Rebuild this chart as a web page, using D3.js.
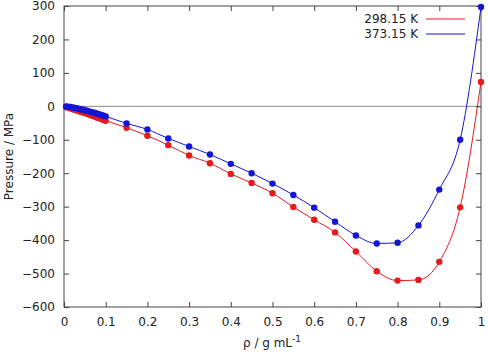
<!DOCTYPE html>
<html><head><meta charset="utf-8">
<script src="https://cdn.jsdelivr.net/npm/d3@7"></script>
<style>body{margin:0;background:#fff}svg{display:block;font-family:"DejaVu Sans",sans-serif}</style>
</head><body><svg id="c" width="488" height="352"></svg>
<script>
const densities = [0.005,0.01,0.015,0.02,0.025,0.03,0.035,0.04,0.045,0.05,0.055,0.06,0.065,0.07,0.075,0.08,0.085,0.09,0.095,0.1,0.15,0.2,0.25,0.3,0.35,0.4,0.45,0.5,0.55,0.6,0.65,0.7,0.75,0.8,0.85,0.9,0.95,1.0];
const p298 = [-2,-4,-6,-8,-10,-12,-14,-16,-18,-20,-22,-24.5,-27,-29,-31,-34,-36,-38,-41,-43,-64,-88,-116,-147,-170,-202,-229,-260,-301,-339,-377,-434,-493,-521,-519,-465,-302,73];
const p373 = [-0.5,-1,-2,-3,-4,-5.5,-7,-8.5,-10,-11.5,-13,-15,-17,-18.5,-20,-22,-24,-26,-28,-30,-51,-69,-96,-120,-144,-172,-200,-231,-265,-303,-345,-386,-410,-408,-356,-249,-100,297];
const seriesNames = ["298.15 K","373.15 K"];
const seriesColors = ["#e41a1c","#1515d4"];
const xTicks = [0,0.1,0.2,0.3,0.4,0.5,0.6,0.7,0.8,0.9,1];
const yTicks = [300,200,100,0,-100,-200,-300,-400,-500,-600];

const svg = d3.select("#c");
const L=64,R=481,T=6,B=307;
const x = d3.scaleLinear().domain([0,1]).range([L,R]);
const y = d3.scaleLinear().domain([-600,300]).range([B,T]);
const axisCol="#444";

svg.append("line").attr("x1",L).attr("x2",R).attr("y1",y(0)).attr("y2",y(0)).attr("stroke","#888").attr("stroke-width",1);

const ax = svg.append("g").attr("transform",`translate(0,${B})`).call(d3.axisBottom(x).tickValues(xTicks).tickSize(-5).tickPadding(10).tickFormat(d3.format("~g")));
const axT = svg.append("g").attr("transform",`translate(0,${T})`).call(d3.axisTop(x).tickValues(xTicks).tickSize(-5).tickFormat(""));
const ay = svg.append("g").attr("transform",`translate(${L},0)`).call(d3.axisLeft(y).tickValues(yTicks).tickSize(-5).tickPadding(9));
const ayR = svg.append("g").attr("transform",`translate(${R},0)`).call(d3.axisRight(y).tickValues(yTicks).tickSize(-5).tickFormat(""));
[ax,axT,ay,ayR].forEach(g=>{
  g.select(".domain").remove();
  g.selectAll(".tick line").attr("stroke",axisCol);
  g.selectAll("text").attr("fill","#222").style("font-size","12px").style("font-family","DejaVu Sans");
});
svg.append("rect").attr("x",L).attr("y",T).attr("width",R-L).attr("height",B-T).attr("fill","none").attr("stroke",axisCol).attr("stroke-width",1);

const sets=[p298,p373];
const line = d3.line().curve(d3.curveMonotoneX).x(d=>x(d[0])).y(d=>y(d[1]));
sets.forEach((vals,i)=>{
  const data = densities.map((d,j)=>[d,vals[j]]);
  svg.append("path").datum(data).attr("d",line).attr("fill","none").attr("stroke",seriesColors[i]).attr("stroke-width",1);
  svg.append("g").selectAll("circle").data(data).join("circle").attr("cx",d=>x(d[0])).attr("cy",d=>y(d[1])).attr("r",3.2).attr("fill",seriesColors[i]);
});

seriesNames.forEach((n,i)=>{
  const ly = 19+i*15;
  svg.append("text").attr("x",418).attr("y",ly).attr("dy","0.35em").attr("text-anchor","end").attr("fill","#222").style("font-size","12px").text(n);
  svg.append("line").attr("x1",426).attr("x2",465).attr("y1",ly).attr("y2",ly).attr("stroke",seriesColors[i]).attr("stroke-width",1);
});

svg.append("text").attr("transform",`translate(13,${(T+B)/2}) rotate(-90)`).attr("text-anchor","middle").attr("fill","#222").style("font-size","12px").text("Pressure / MPa");
const xl = svg.append("text").attr("x",272).attr("y",347).attr("text-anchor","middle").attr("fill","#222").style("font-size","12px");
xl.append("tspan").text("ρ / g mL");
xl.append("tspan").attr("dy","-5").style("font-size","9px").text("-1");
</script></body></html>
